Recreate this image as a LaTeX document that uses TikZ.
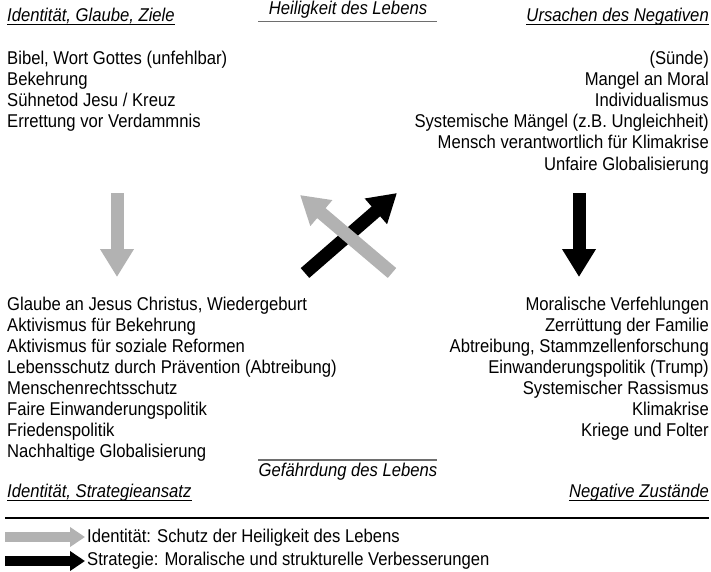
\documentclass[tikz,border=0pt]{standalone}
\usepackage{fontspec}
\setmainfont{Liberation Sans}[FakeStretch=0.9]
\usetikzlibrary{arrows.meta}

\definecolor{lightgrey}{RGB}{178,178,178}
\definecolor{linegrey}{RGB}{110,110,110}
\tikzset{
  txt/.style={inner sep=0pt, font=\fontsize{18.5}{21}\selectfont},
  head/.style={inner sep=0pt, font=\fontsize{18.5}{21}\selectfont\itshape},
  bigarrow/.style={line width=13pt, -{Triangle[width=32pt,length=28pt]}},
  smallarrow/.style={line width=10pt, -{Triangle[width=19pt,length=15pt]}},
}

\begin{document}
\begin{tikzpicture}[x=1pt,y=-1pt]
\useasboundingbox (0,0) rectangle (711,572);
% corner headings
\node[head, anchor=base west] (ziele) at (7,22) {Identität, Glaube, Ziele};
\node[head, anchor=base east] (ursachen) at (709,22) {Ursachen des Negativen};
\node[head, anchor=base west] (strategie) at (7,497) {Identität, Strategieansatz};
\node[head, anchor=base east] (zustaende) at (709,497) {Negative Zustände};
\foreach \n in {ziele,ursachen,strategie,zustaende}
  \draw[line width=1pt] ([yshift=-3pt]\n.base west) -- ([yshift=-3pt]\n.base east);
% middle headings
\node[head, anchor=base] (heilig) at (348,15) {Heiligkeit des Lebens};
\node[head, anchor=base] (gefahr) at (348,476) {Gefährdung des Lebens};
\draw[linegrey, line width=1.3pt] (258,21.5) -- (437,21.5);
\draw[linegrey, line width=1.3pt] (258,460) -- (437,460);
% lists
\foreach \t [count=\i from 0] in {{Bibel, Wort Gottes (unfehlbar)},Bekehrung,
    Sühnetod Jesu / Kreuz,Errettung vor Verdammnis}
  \node[txt, anchor=base west] (glaube\i) at (7,65+21*\i) {\t};
\foreach \t [count=\i from 0] in {(Sünde),Mangel an Moral,Individualismus,
    Systemische Mängel (z.B. Ungleichheit),Mensch verantwortlich für Klimakrise,
    Unfaire Globalisierung}
  \node[txt, anchor=base east] (ursache\i) at (709,65+21*\i) {\t};
\foreach \t [count=\i from 0] in {{Glaube an Jesus Christus, Wiedergeburt},
    Aktivismus für Bekehrung,Aktivismus für soziale Reformen,
    Lebensschutz durch Prävention (Abtreibung),Menschenrechtsschutz,
    Faire Einwanderungspolitik,Friedenspolitik,Nachhaltige Globalisierung}
  \node[txt, anchor=base west] (ansatz\i) at (7,310+21*\i) {\t};
\foreach \t [count=\i from 0] in {Moralische Verfehlungen,Zerrüttung der Familie,
    {Abtreibung, Stammzellenforschung},Einwanderungspolitik (Trump),
    Systemischer Rassismus,Klimakrise,Kriege und Folter}
  \node[txt, anchor=base east] (zustand\i) at (709,310+21*\i) {\t};
% arrows
\coordinate (g1) at (117,193); \coordinate (g2) at (117,277);
\coordinate (b1) at (579,193); \coordinate (b2) at (579,277);
\coordinate (x1) at (305,273); \coordinate (x2) at (397,193);
\coordinate (y1) at (392,273); \coordinate (y2) at (300,195);
\draw[bigarrow, lightgrey] (g1) -- (g2);
\draw[bigarrow] (b1) -- (b2);
\draw[bigarrow] (x1) -- (x2);
\draw[bigarrow, lightgrey] (y1) -- (y2);
% legend
\draw[line width=2pt] (5,518) -- (709,518);
\coordinate (l1) at (5,537); \coordinate (l2) at (85,537);
\coordinate (l3) at (5,561); \coordinate (l4) at (85,561);
\draw[smallarrow, lightgrey] (l1) -- (l2);
\draw[smallarrow] (l3) -- (l4);
\node[txt, anchor=base west] (legid) at (87,542) {Identität: Schutz der Heiligkeit des Lebens};
\node[txt, anchor=base west] (legstr) at (87,565) {Strategie: Moralische und strukturelle Verbesserungen};
\end{tikzpicture}
\end{document}
